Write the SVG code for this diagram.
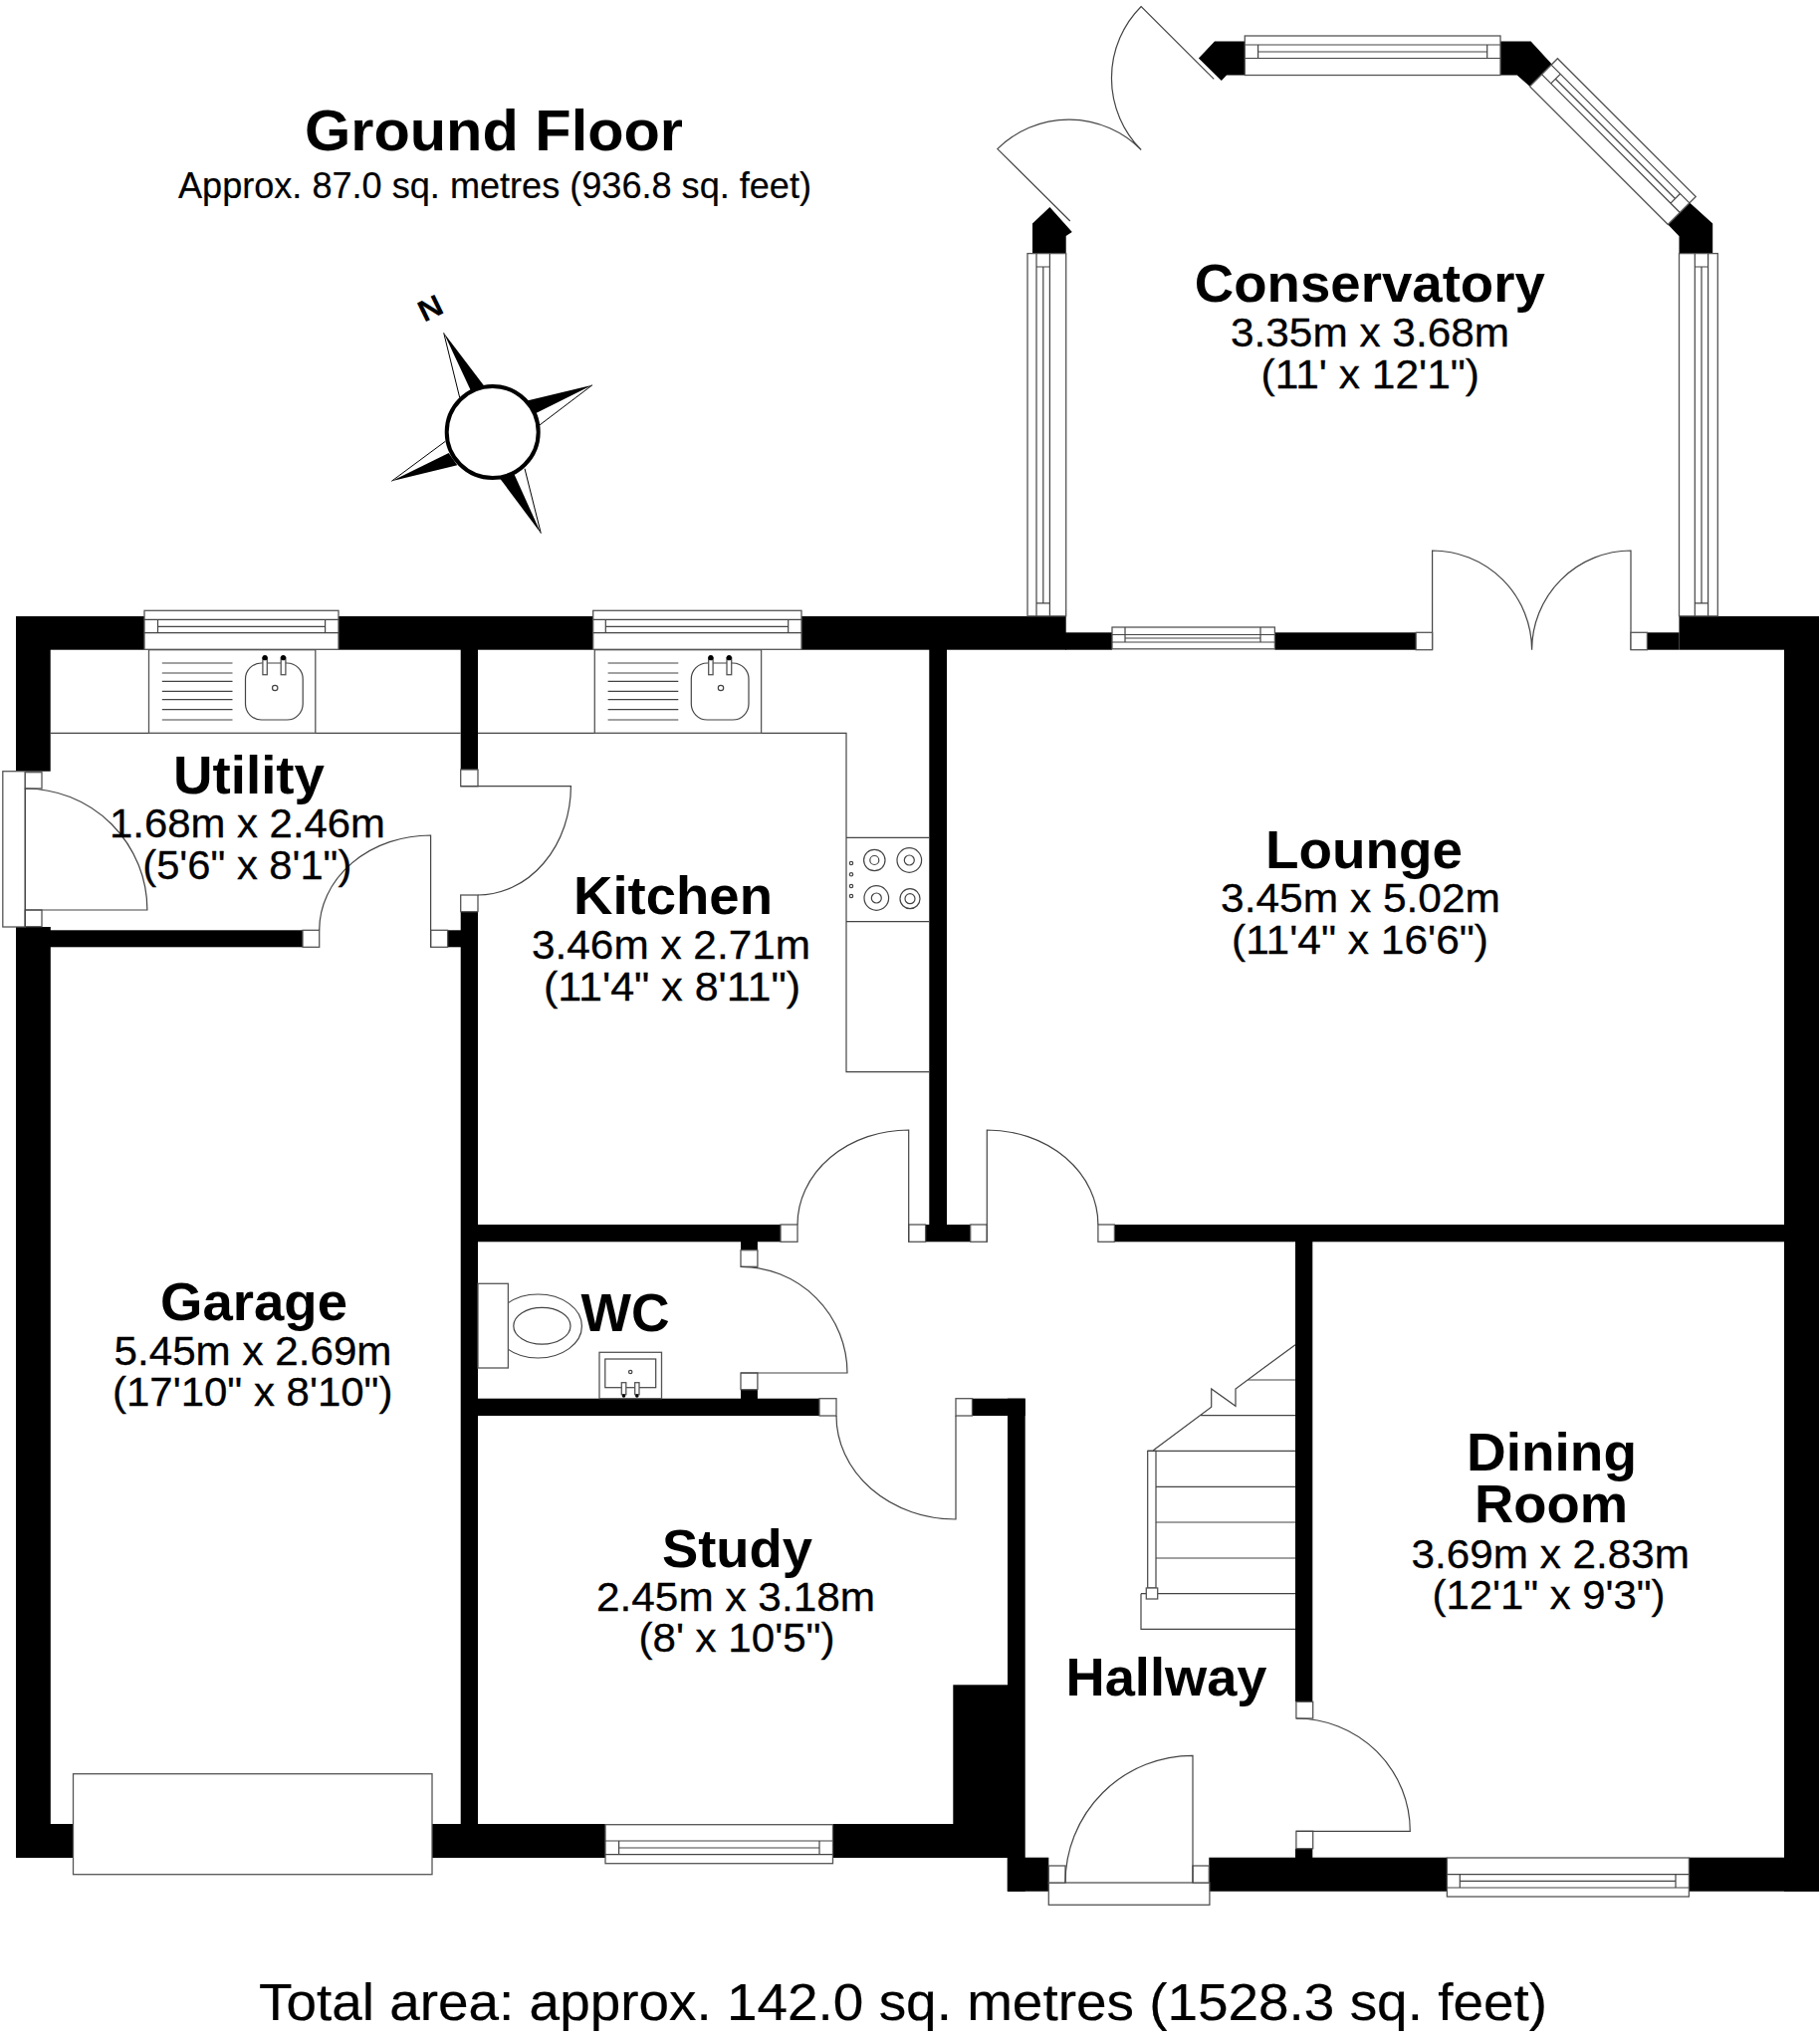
<svg xmlns="http://www.w3.org/2000/svg" width="1828" height="2048" viewBox="0 0 1828 2048">
<style>
.w{fill:#000;stroke:none}
.o{fill:none;stroke:#444;stroke-width:1.2}
.f{fill:#fff;stroke:#555;stroke-width:1.3}
.k{fill:#000;stroke:none}
text{font-family:"Liberation Sans",Arial,sans-serif;fill:#000}
.b{font-weight:bold;font-size:54px}
.d{font-size:41px;stroke:#000;stroke-width:.3}
</style>
<defs>
<g id="sink">
<rect class="f" x="0" y="0" width="167.3" height="83.6"/>
<path class="o" d="M13.3 13.3H84M13.3 23.3H84M13.3 31.6H84M13.3 41.6H84M13.3 50H84M13.3 60H84M13.3 70.3H84"/>
<rect class="o" x="97" y="13.3" width="57.7" height="57" rx="16" ry="16"/>
<rect class="f" x="114.4" y="8" width="4.4" height="17"/>
<rect class="f" x="132.7" y="8" width="4.7" height="17"/>
<circle class="k" cx="116.6" cy="8" r="2.6"/><circle class="k" cx="135" cy="8" r="2.6"/>
<circle class="o" cx="126.7" cy="38.3" r="2.7"/>
</g>
</defs>
<rect x="0" y="0" width="1828" height="2048" fill="#fff"/>

<g id="walls">
<rect class="w" x="16" y="619" width="129" height="33.7"/>
<rect class="w" x="340" y="619" width="255.7" height="33.7"/>
<rect class="w" x="805" y="619" width="265.7" height="33.7"/>
<rect class="w" x="1070" y="635.3" width="47" height="17.4"/>
<rect class="w" x="1280.4" y="635.3" width="141.8" height="17.4"/>
<rect class="w" x="1654.4" y="635.3" width="32.1" height="17.4"/>
<rect class="w" x="1686.5" y="619" width="140.5" height="33.7"/>
<rect class="w" x="16" y="619" width="34.7" height="155.7"/>
<rect class="w" x="16" y="931" width="34.8" height="935"/>
<rect class="w" x="16" y="1832" width="57.5" height="34"/>
<rect class="w" x="434" y="1832" width="174" height="34"/>
<rect class="w" x="836.5" y="1832" width="175.5" height="34"/>
<rect class="w" x="1011.7" y="1865.7" width="41.6" height="34"/>
<rect class="w" x="1214.3" y="1865.7" width="239.1" height="34"/>
<rect class="w" x="1696.4" y="1865.7" width="130.6" height="34"/>
<rect class="w" x="1792" y="619" width="35" height="1280.7"/>
<rect class="w" x="462.7" y="652" width="17.3" height="121"/>
<rect class="w" x="462.7" y="915.7" width="17.3" height="917"/>
<rect class="w" x="449.6" y="934.3" width="13.4" height="17"/>
<rect class="w" x="50" y="934.3" width="254" height="17"/>
<rect class="w" x="933.3" y="652" width="17.7" height="579"/>
<rect class="w" x="480" y="1230" width="304" height="17.3"/>
<rect class="w" x="929.6" y="1230" width="45.1" height="17.3"/>
<rect class="w" x="1119.4" y="1230" width="673" height="17.3"/>
<rect class="w" x="744" y="1247" width="16.9" height="8.7"/>
<rect class="w" x="744" y="1395.7" width="16.9" height="9.5"/>
<rect class="w" x="480" y="1404.7" width="343" height="17.3"/>
<rect class="w" x="976.5" y="1404.7" width="53.2" height="17.3"/>
<rect class="w" x="1012" y="1404.7" width="17.7" height="495"/>
<rect class="w" x="957.3" y="1692.3" width="55" height="140"/>
<rect class="w" x="1301" y="1247" width="17.3" height="462.3"/>
<rect class="w" x="1301" y="1856.7" width="17.3" height="9.5"/>
<polygon class="w" points="1037,224.6 1054.4,208 1076.8,232.9 1070.7,237 1070.7,254.6 1037,254.6"/>
<polygon class="w" points="1203.9,58.5 1220,41.6 1250.3,41.6 1250.3,75.5 1232,75.5 1226.8,81"/>
<polygon class="w" points="1507,41.6 1537.6,41.6 1558.5,64.2 1536.5,86.7 1523.8,75.5 1507,75.5"/>
<polygon class="w" points="1675.3,225.5 1697.3,203.8 1720.2,224.6 1720.2,254.6 1686.5,254.6 1686.5,237.2"/>
</g>

<g id="windows">
<rect class="f" x="145" y="613.3" width="195" height="39"/>
<path class="o" d="M145 622.3H340M158.5 629.3H326.6M145 635.7H340M158.5 622.3V635.7M326.6 622.3V635.7"/>
<rect class="f" x="595.7" y="613.3" width="209.3" height="39"/>
<path class="o" d="M595.7 622.3H805M608.3 629.3H791.7M595.7 635.7H805M608.3 622.3V635.7M791.7 622.3V635.7"/>
<rect class="f" x="1250.3" y="36" width="256.7" height="39.5"/>
<path class="o" d="M1250.3 45H1507M1263.6 52H1493.7M1250.3 58.5H1507M1263.6 45V58.5M1493.7 45V58.5"/>
<g transform="translate(1536.5 86.7) rotate(45)">
<rect class="f" x="0" y="-39.5" width="196.3" height="39.5"/>
<path class="o" d="M0 -30.5H196.3M13 -23.5H183M0 -17H196.3M13 -30.5V-17M183 -30.5V-17"/>
</g>
<rect class="f" x="1032" y="254.6" width="38.7" height="364.2"/>
<path class="o" d="M1041 254.6V618.8M1047.8 268V605.8M1054.4 254.6V618.8M1041 268H1054.4M1041 605.8H1054.4"/>
<rect class="f" x="1686.5" y="254.6" width="38.8" height="364.2"/>
<path class="o" d="M1702.3 254.6V618.8M1709 268V605.8M1715.6 254.6V618.8M1702.3 268H1715.6M1702.3 605.8H1715.6"/>
<rect class="f" x="1117" y="630" width="163.4" height="21.8"/>
<path class="o" d="M1117 637.5H1280.4M1130 641H1266M1117 645H1280.4M1130 630V645M1266 630V645"/>
<rect class="f" x="608" y="1832.7" width="228.5" height="39"/>
<path class="o" d="M608 1849H836.5M621.6 1856H823M608 1862.7H836.5M621.6 1849V1862.7M823 1849V1862.7"/>
<rect class="f" x="1453.4" y="1866" width="243" height="39"/>
<path class="o" d="M1453.4 1882.7H1696.4M1466.3 1889.3H1683M1453.4 1896H1696.4M1466.3 1882.7V1896M1683 1882.7V1896"/>
<rect class="f" x="73.5" y="1781.7" width="360.5" height="101"/>
</g>

<g id="doors">
<path class="o" d="M1074.8 222L1001.8 149.6A102 102 0 0 1 1146.2 150.5A102 102 0 0 1 1146.2 6.5L1219.2 79.4"/>
<path class="o" d="M1438.6 652.7V553A100 100 0 0 1 1538.6 652.7A100 100 0 0 1 1638 553V652.7"/>
<rect class="f" x="1422.2" y="635.3" width="16.4" height="17.4"/>
<rect class="f" x="1638" y="635.3" width="16.4" height="17.4"/>

<rect class="f" x="2.8" y="774.7" width="22.5" height="156.3"/>
<rect class="f" x="25.3" y="775.7" width="16.7" height="16.3"/>
<rect class="f" x="25.3" y="914" width="16.7" height="16.7"/>
<path class="o" d="M25.3 914H147.9A122.6 122 0 0 0 25.3 792V931"/>

<rect class="f" x="462.7" y="773" width="17.3" height="16.7"/>
<rect class="f" x="462.7" y="899" width="17.3" height="16.7"/>
<path class="o" d="M462.7 789.7H573.4A93.4 109.3 0 0 1 480 899"/>
<rect class="f" x="304" y="934.3" width="16.7" height="17"/>
<rect class="f" x="432.6" y="934.3" width="17" height="17"/>
<path class="o" d="M320.7 934.3A111.9 95.3 0 0 1 432.6 839V951.3"/>

<rect class="f" x="784" y="1230" width="17" height="17.3"/>
<rect class="f" x="912.7" y="1230" width="16.9" height="17.3"/>
<path class="o" d="M801 1230A111.7 95 0 0 1 912.7 1135V1247.3"/>
<rect class="f" x="974.7" y="1230" width="16.6" height="17.3"/>
<rect class="f" x="1102.9" y="1230" width="16.5" height="17.3"/>
<path class="o" d="M991.3 1247.3V1135A111.6 95 0 0 1 1102.9 1230"/>

<rect class="f" x="744" y="1255.7" width="16.9" height="16.6"/>
<rect class="f" x="744" y="1379" width="16.9" height="16.7"/>
<path class="o" d="M744 1272.3A107 106.7 0 0 1 851 1379H744"/>

<rect class="f" x="823" y="1404.7" width="17" height="17.3"/>
<rect class="f" x="960" y="1404.7" width="16.5" height="17.3"/>
<path class="o" d="M840 1422A120 104 0 0 0 960 1526V1422"/>

<rect class="f" x="1301.9" y="1709.3" width="16.8" height="16.7"/>
<rect class="f" x="1301.9" y="1839.3" width="16.8" height="17.4"/>
<path class="o" d="M1302 1726A114.3 113.3 0 0 1 1416.3 1839.3H1302"/>

<rect class="f" x="1053.3" y="1891" width="161.6" height="22.3"/>
<rect class="f" x="1053.3" y="1874" width="16.7" height="17"/>
<rect class="f" x="1198" y="1874" width="16.3" height="17"/>
<path class="o" d="M1070 1891A128 127.7 0 0 1 1198 1763.3V1891"/>
</g>

<g id="fixtures">
<path class="o" d="M50.6 736.3H462.7M480 736.3H850V1076.7H933.3M850 841.3H933.3M850 925.7H933.3"/>
<use href="#sink" x="149.5" y="652.7"/>
<use href="#sink" x="597.3" y="652.7"/>
<g id="hob">
<circle class="o" cx="878.3" cy="864" r="10.7"/><circle class="o" cx="878.3" cy="864" r="4.5"/>
<circle class="o" cx="913.3" cy="864" r="12.3"/><circle class="o" cx="913.3" cy="864" r="5"/>
<circle class="o" cx="880.3" cy="902" r="12.3"/><circle class="o" cx="880.3" cy="902" r="5"/>
<circle class="o" cx="914" cy="902.7" r="10"/><circle class="o" cx="914" cy="902.7" r="5"/>
<circle class="o" cx="855" cy="867" r="1.7"/><circle class="o" cx="855" cy="878.3" r="1.7"/><circle class="o" cx="855" cy="890" r="1.7"/><circle class="o" cx="855" cy="900" r="1.7"/>
</g>
<g id="toilet">
<ellipse class="o" cx="540.4" cy="1332" rx="44" ry="32"/>
<rect class="f" x="480" y="1289.3" width="30.4" height="84.7"/>
<ellipse class="o" cx="544.4" cy="1331.7" rx="28.6" ry="18.4"/>
</g>
<g id="basin">
<rect class="f" x="602" y="1358.3" width="62.5" height="46.4"/>
<rect class="o" x="607.8" y="1365" width="50.9" height="28.7"/>
<rect class="f" x="624.3" y="1388.7" width="4.5" height="12"/>
<rect class="f" x="637.7" y="1388.7" width="4.3" height="12"/>
<circle class="k" cx="626.5" cy="1402" r="1.8"/><circle class="k" cx="639.8" cy="1402" r="1.8"/>
<circle class="o" cx="633.2" cy="1378" r="1.7"/>
</g>
<g id="stairs">
<path class="o" d="M1301 1350.7L1241 1395V1412.3L1216.7 1395V1413.3L1158.3 1456.7"/>
<path class="o" d="M1253.3 1386H1301M1206 1421.7H1301M1152.7 1457.3H1301M1161 1493.3H1301M1161 1529H1301M1161 1565H1301M1146 1600.7H1301M1146 1600.7V1636.3H1301"/>
<rect class="o" x="1152.7" y="1457.3" width="8.3" height="137.7"/>
<rect class="f" x="1151.3" y="1595" width="11.4" height="11"/>
</g>
</g>

<g id="compass">
<polygon points="445.7,334.3 486.7,388.3 473.3,393.3" fill="#000"/>
<polygon points="595,386.7 528.3,402.7 538.3,415" fill="#000"/>
<polygon points="543.3,535.7 501.7,480 516.7,476.7" fill="#000"/>
<polygon points="393.3,483.3 459.3,467.3 450.7,455" fill="#000"/>
<path fill="none" stroke="#000" stroke-width="1" d="M445.7 334.3L461.7 399.3M595 386.7L541 427.7M543.3 535.7L527 470.7M393.3 483.3L447.3 443.3"/>
<circle cx="494.7" cy="434" r="46" fill="#fff" stroke="#000" stroke-width="4"/>
<text style="font-size:30px;font-weight:bold" transform="translate(426 324) rotate(-26) scale(1.1 1)">N</text>
</g>

<g id="labels">
<text style="font-size:57px;font-weight:bold" x="306" y="151" textLength="380" lengthAdjust="spacingAndGlyphs">Ground Floor</text>
<text style="font-size:36px;stroke:#000;stroke-width:.2" x="179" y="199" textLength="636" lengthAdjust="spacingAndGlyphs">Approx. 87.0 sq. metres (936.8 sq. feet)</text>
<g id="conservatory"><text class="b" x="1199.8" y="303" textLength="352" lengthAdjust="spacingAndGlyphs">Conservatory</text>
<text class="d" x="1236" y="348" textLength="280" lengthAdjust="spacingAndGlyphs">3.35m x 3.68m</text>
<text class="d" x="1266.6" y="390" textLength="219.4" lengthAdjust="spacingAndGlyphs">(11' x 12'1")</text></g>
<g id="lounge"><text class="b" x="1271" y="872" textLength="198" lengthAdjust="spacingAndGlyphs">Lounge</text>
<text class="d" x="1226" y="916" textLength="281" lengthAdjust="spacingAndGlyphs">3.45m x 5.02m</text>
<text class="d" x="1237" y="958" textLength="258" lengthAdjust="spacingAndGlyphs">(11'4" x 16'6")</text></g>
<g id="utility"><text class="b" x="174" y="796.7" textLength="152" lengthAdjust="spacingAndGlyphs">Utility</text>
<text class="d" x="110" y="840.7" textLength="277" lengthAdjust="spacingAndGlyphs">1.68m x 2.46m</text>
<text class="d" x="143.3" y="882.7" textLength="210" lengthAdjust="spacingAndGlyphs">(5'6" x 8'1")</text></g>
<g id="kitchen"><text class="b" x="576" y="918.3" textLength="200" lengthAdjust="spacingAndGlyphs">Kitchen</text>
<text class="d" x="534" y="963.3" textLength="280" lengthAdjust="spacingAndGlyphs">3.46m x 2.71m</text>
<text class="d" x="546" y="1005" textLength="258" lengthAdjust="spacingAndGlyphs">(11'4" x 8'11")</text></g>
<g id="wc"><text class="b" x="583.5" y="1337.3" textLength="89" lengthAdjust="spacingAndGlyphs">WC</text></g>
<g id="study"><text class="b" x="665" y="1574.3" textLength="151" lengthAdjust="spacingAndGlyphs">Study</text>
<text class="d" x="599" y="1617.8" textLength="280" lengthAdjust="spacingAndGlyphs">2.45m x 3.18m</text>
<text class="d" x="641.5" y="1659" textLength="197" lengthAdjust="spacingAndGlyphs">(8' x 10'5")</text></g>
<g id="garage"><text class="b" x="161" y="1326" textLength="188" lengthAdjust="spacingAndGlyphs">Garage</text>
<text class="d" x="114.5" y="1371" textLength="279" lengthAdjust="spacingAndGlyphs">5.45m x 2.69m</text>
<text class="d" x="113" y="1412" textLength="281.5" lengthAdjust="spacingAndGlyphs">(17'10" x 8'10")</text></g>
<g id="dining"><text class="b" x="1473" y="1477" textLength="171" lengthAdjust="spacingAndGlyphs">Dining</text>
<text class="b" x="1481" y="1529" textLength="154" lengthAdjust="spacingAndGlyphs">Room</text>
<text class="d" x="1417.5" y="1574.6" textLength="279.5" lengthAdjust="spacingAndGlyphs">3.69m x 2.83m</text>
<text class="d" x="1438.5" y="1616" textLength="234" lengthAdjust="spacingAndGlyphs">(12'1" x 9'3")</text></g>
<g id="hallway"><text class="b" x="1070.5" y="1702.7" textLength="202" lengthAdjust="spacingAndGlyphs">Hallway</text></g>
<text style="font-size:51px;stroke:#000;stroke-width:.2" x="260" y="2029" textLength="1294" lengthAdjust="spacingAndGlyphs">Total area: approx. 142.0 sq. metres (1528.3 sq. feet)</text>
</g>
</svg>
